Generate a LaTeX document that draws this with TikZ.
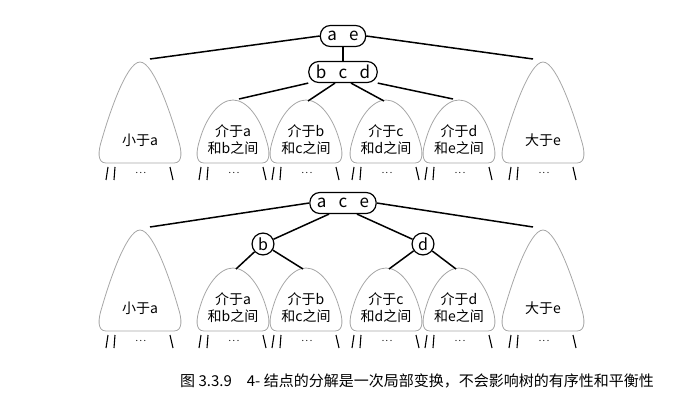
\documentclass[tikz,border=0pt]{standalone}
\usepackage{fontspec}
\setmainfont{Noto Sans CJK SC}
\newfontfamily\capfont{Noto Sans CJK SC}
\begin{document}
\begin{tikzpicture}[x=1pt,y=-1pt,
  keybox/.style={draw,line width=1.2pt,rounded corners=10pt,minimum height=21pt,inner xsep=7pt,inner ysep=1pt,font=\fontsize{17}{18}\selectfont,fill=white},
  keycirc/.style={draw,line width=1.2pt,circle,inner sep=2pt,font=\fontsize{16}{17}\selectfont,fill=white},
  edge/.style={line width=1.5pt},
  treeline/.style={draw=black!35,line width=0.8pt},
  leg/.style={line width=1.1pt},
  lab/.style={font=\fontsize{14}{17}\selectfont,align=center,inner sep=0pt}]
\useasboundingbox (0,0) rectangle (691,401);
\newcommand{\tr}[6]{% x, top, bottom, halfwidth, name, label
  \path[treeline] (#1-#4+6,#3) .. controls (#1-#4-3,#3) and (#1-#4-2,#3-12) .. (#1-#4+2,#3-24)
     .. controls (#1-#4+8,#3-45) and (#1-14,#2) .. (#1,#2)
     .. controls (#1+14,#2) and (#1+#4-8,#3-45) .. (#1+#4-2,#3-24)
     .. controls (#1+#4+2,#3-12) and (#1+#4+3,#3) .. (#1+#4-6,#3) -- cycle;
  \coordinate (#5) at (#1,#2+3);
  \node[lab] at (#1,#3-23) {#6};
  \draw[leg] (#1-32,#3+4) -- (#1-34,#3+17);
  \draw[leg] (#1-25,#3+4) -- (#1-26,#3+17);
  \draw[leg] (#1+30,#3+4) -- (#1+33,#3+17);
  \node[font=\small] at (#1+1,#3+10) {.\,.\,.};
}
% top diagram
\tr{140}{62}{163}{40}{A1}{小于a}
\tr{233}{100}{163}{35}{B1}{介于a\\和b之间}
\tr{306}{100}{163}{35}{C1}{介于b\\和c之间}
\tr{386}{100}{163}{35}{D1}{介于c\\和d之间}
\tr{459}{100}{163}{35}{E1}{介于d\\和e之间}
\tr{543}{62}{163}{40}{F1}{大于e}
\node[keybox] (ae) at (343,36) {a\,\,\, e};
\node[keybox] (bcd) at (343,72) {b\,\,\, c\,\,\, d};
\draw[edge] (ae) -- (bcd);
\draw[edge] (ae.west) -- ([xshift=10pt,yshift=6pt]A1);
\draw[edge] (ae.east) -- ([xshift=-10pt,yshift=6pt]F1);
\draw[edge] (bcd.south west) -- ([xshift=6pt,yshift=4pt]B1);
\draw[edge] ([xshift=-8pt]bcd.south) -- ([xshift=2pt,yshift=2pt]C1);
\draw[edge] ([xshift=8pt]bcd.south) -- ([xshift=-2pt,yshift=2pt]D1);
\draw[edge] (bcd.south east) -- ([xshift=-6pt,yshift=4pt]E1);
% bottom diagram
\tr{140}{230}{331}{40}{A2}{小于a}
\tr{233}{268}{331}{35}{B2}{介于a\\和b之间}
\tr{306}{268}{331}{35}{C2}{介于b\\和c之间}
\tr{386}{268}{331}{35}{D2}{介于c\\和d之间}
\tr{459}{268}{331}{35}{E2}{介于d\\和e之间}
\tr{543}{230}{331}{40}{F2}{大于e}
\node[keybox] (ace) at (343,203) {a\,\,\, c\,\,\, e};
\node[keycirc] (b) at (263,244) {b};
\node[keycirc] (d) at (423,244) {d};
\draw[edge] (ace.west) -- ([xshift=10pt,yshift=6pt]A2);
\draw[edge] (ace.east) -- ([xshift=-10pt,yshift=6pt]F2);
\draw[edge] ([xshift=-14pt]ace.south) -- (b);
\draw[edge] ([xshift=14pt]ace.south) -- (d);
\draw[edge] (b) -- ([xshift=3pt,yshift=2pt]B2);
\draw[edge] (b) -- ([xshift=-3pt,yshift=2pt]C2);
\draw[edge] (d) -- ([xshift=3pt,yshift=2pt]D2);
\draw[edge] (d) -- ([xshift=-3pt,yshift=2pt]E2);
% caption
\node[anchor=west,font=\capfont\fontsize{15}{17}\selectfont,inner sep=0pt] (cap) at (180,381) {图 3.3.9\quad 4- 结点的分解是一次局部变换，不会影响树的有序性和平衡性};
\end{tikzpicture}
\end{document}
